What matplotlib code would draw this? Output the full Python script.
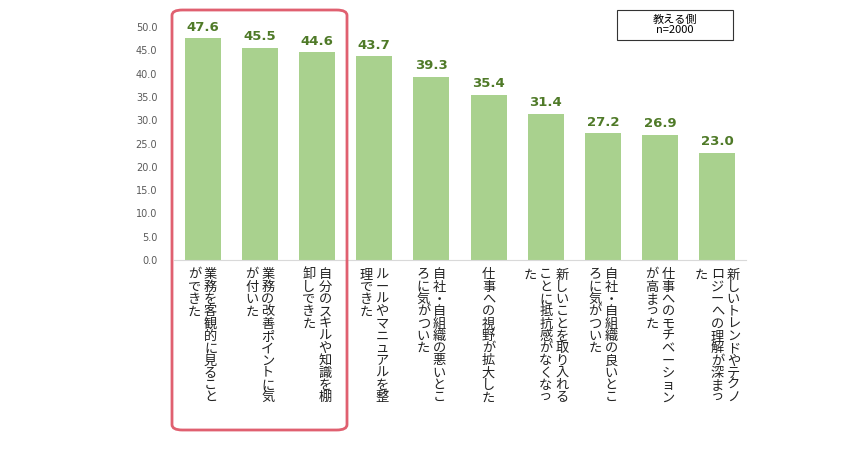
import matplotlib
matplotlib.use("Agg")
import matplotlib.pyplot as plt
from matplotlib.patches import FancyBboxPatch, Rectangle

plt.rcParams["font.family"] = "Noto Sans CJK JP"

# each label: list of columns, read right-to-left
labels = [
    ["業務を客観的に見ること", "ができた"],
    ["業務の改善ポイントに気", "が付いた"],
    ["自分のスキルや知識を棚", "卸しできた"],
    ["ルールやマニュアルを整", "理できた"],
    ["自社・自組織の悪いとこ", "ろに気がついた"],
    ["仕事への視野が拡大した"],
    ["新しいことを取り入れる", "ことに抵抗感がなくなっ", "た"],
    ["自社・自組織の良いとこ", "ろに気がついた"],
    ["仕事へのモチベーション", "が高まった"],
    ["新しいトレンドやテクノ", "ロジーへの理解が深まっ", "た"],
]
values = [47.6, 45.5, 44.6, 43.7, 39.3, 35.4, 31.4, 27.2, 26.9, 23.0]
yticks = [0, 5, 10, 15, 20, 25, 30, 35, 40, 45, 50]

fig = plt.figure(figsize=(8.65, 4.5), dpi=100)
ax = fig.add_axes([174 / 865, 1 - 260 / 450, 572 / 865, 233 / 450])

x = list(range(len(values)))
ax.bar(x, values, width=0.63, color="#a9d18e")
for xi, v in zip(x, values):
    ax.text(xi, v + 1.0, f"{v:.1f}", ha="center", va="bottom", fontsize=9.5,
            fontweight="bold", color="#4f7a28", family="DejaVu Sans")

ax.set_xlim(-0.5, len(values) - 0.5)
ax.set_ylim(0, 50)
ax.set_yticks(yticks)
ax.set_yticklabels([f"{t:.1f}" for t in yticks], fontsize=7, color="#595959", family="DejaVu Sans")
ax.set_xticks([])
ax.tick_params(axis="y", length=0, pad=12)
for s in ["top", "right", "left"]:
    ax.spines[s].set_visible(False)
ax.spines["bottom"].set_color("#d9d9d9")

# vertical labels
for xi, cols in zip(x, labels):
    n = len(cols)
    for j, col in enumerate(cols):
        off = (n - 1) / 2 * 0.28 - j * 0.28
        ax.text(xi + off, -1.8, "\n".join(col), ha="center", va="top", fontsize=9.5,
                linespacing=0.93, color="#222222", clip_on=False)

# highlight box
box = FancyBboxPatch((172 / 865, 1 - 430 / 450), 175 / 865, 420 / 450,
                     boxstyle="round,pad=0,rounding_size=0.012", transform=fig.transFigure,
                     fill=False, edgecolor="#e06070", linewidth=2)
fig.patches.append(box)

fig.patches.append(Rectangle((617 / 865, 1 - 40 / 450), 116 / 865, 30 / 450,
                             transform=fig.transFigure, facecolor="white",
                             edgecolor="#333333", linewidth=0.8))
fig.text(675 / 865, 1 - 25 / 450, "教える側\nn=2000", ha="center", va="center", fontsize=8,
         linespacing=1.0)

fig.savefig("out.png", dpi=100)
